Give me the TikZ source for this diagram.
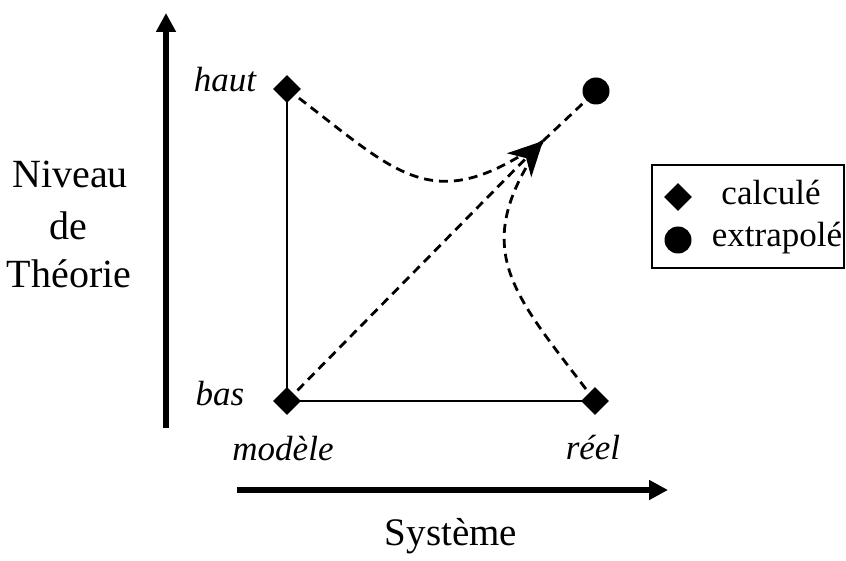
\documentclass[tikz,border=0pt]{standalone}
\usepackage{fontspec}
\setmainfont{Liberation Serif}
\usetikzlibrary{arrows.meta,shapes.geometric}
\begin{document}
\begin{tikzpicture}[x=0.5pt,y=-0.5pt,
  dia/.style={diamond,fill=black,draw=none,inner sep=0pt,minimum width=14pt,minimum height=14pt},
  dot/.style={circle,fill=black,draw=none,inner sep=0pt,minimum size=13.5pt},
  lbl/.style={anchor=base,inner sep=0pt,font=\fontsize{17.5}{21}\selectfont\itshape},
  big/.style={anchor=base,inner sep=0pt,font=\fontsize{20}{25}\selectfont},
  leg/.style={anchor=base,inner sep=0pt,font=\fontsize{17.5}{21}\selectfont},
  axis/.style={line width=3pt,-{Triangle[length=9.5pt,width=9.5pt]}},
  solidl/.style={line width=1.1pt},
  dsh/.style={line width=1.4pt,dash pattern=on 4.5pt off 3pt}]
\useasboundingbox (0,0) rectangle (846,561);
% axes
\coordinate (ya) at (166,428);
\coordinate (yb) at (166,13);
\coordinate (xa) at (237,490);
\coordinate (xb) at (668,490);
\draw[axis] (ya) -- (yb);
\draw[axis] (xa) -- (xb);
% points
\node[dia] (haut) at (287,89) {};
\node[dia] (bas) at (287,401) {};
\node[dia] (reel) at (595,401) {};
\node[dot] (ext) at (596,91) {};
\coordinate (tip) at (543,141);
% solid edges
\draw[solidl] (haut.center) -- (bas.center) -- (reel.center);
% dashed
\draw[dsh] (haut.center) to[out=-37,in=-145,looseness=1.35] (tip);
\draw[dsh] (reel.center) to[out=127,in=-125,looseness=1.3] (tip);
\draw[dsh,-{Stealth[length=17pt,width=17pt,inset=5pt]}] (bas.center) -- (tip);
\draw[dsh] (tip) -- (ext);
% labels
\node[lbl] (lhaut) at (225,92) {haut};
\node[lbl] (lbas) at (220,405) {bas};
\node[lbl] (lmod) at (283,460) {modèle};
\node[lbl] (lreel) at (593,459) {réel};
\node[big,font=\fontsize{19.5}{24}\selectfont] (lsys) at (451,545) {Système};
\node[big] (l1) at (70,188) {Niveau};
\node[big] (l2) at (68,240) {de};
\node[big] (l3) at (69,287) {Théorie};
% legend
\draw[line width=1pt] (652,165) rectangle (844,268);
\node[dia] (ld) at (678,197) {};
\node[dot] (lc) at (678,240) {};
\node[leg] (t1) at (771,205) {calculé};
\node[leg] (t2) at (777,247) {extrapolé};
\end{tikzpicture}
\end{document}
